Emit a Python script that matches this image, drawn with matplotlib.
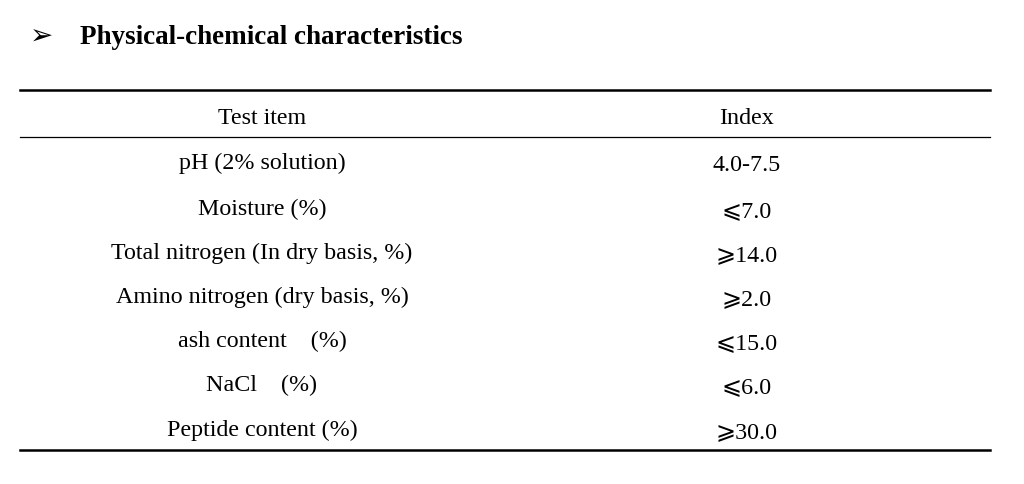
import matplotlib.pyplot as plt

title = "Physical-chemical characteristics"
header = ["Test item", "Index"]
test_items = ["pH (2% solution)", "Moisture (%)", "Total nitrogen (In dry basis, %)",
              "Amino nitrogen (dry basis, %)", "ash content\u3000(%)", "NaCl\u3000(%)",
              "Peptide content (%)"]
index_values = ["4.0-7.5", "\u2a7d7.0", "\u2a7e14.0", "\u2a7e2.0", "\u2a7d15.0",
                "\u2a7d6.0", "\u2a7e30.0"]

fonts = ['Liberation Serif', 'DejaVu Serif', 'Noto Sans CJK SC', 'DejaVu Sans']
plt.rcParams['font.family'] = fonts

fig = plt.figure(figsize=(10.24, 4.85), dpi=100)
ax = fig.add_axes([0, 0, 1, 1])
ax.set_xlim(0, 1024)
ax.set_ylim(485, 0)
ax.axis('off')

ax.text(42, 37, "\u27a2", fontsize=20, family=['DejaVu Sans'], ha='center', va='center')
ax.text(80, 38, title, fontsize=19.5, fontweight='bold', va='center')

ax.plot([20, 990], [91, 91], color='black', lw=1.8)
ax.plot([20, 990], [138, 138], color='black', lw=0.9)
ax.plot([20, 990], [451, 451], color='black', lw=1.8)

fs = 17.3
col_x = [262, 747]
ax.text(col_x[0], 118, header[0], fontsize=fs, ha='center', va='center')
ax.text(col_x[1], 118, header[1], fontsize=fs, ha='center', va='center')

row_y = [163, 209, 253, 297, 341, 385, 430]
for y, item, val in zip(row_y, test_items, index_values):
    ax.text(col_x[0], y, item, fontsize=fs, ha='center', va='center')
    ax.text(col_x[1], y, val, fontsize=fs, ha='center', va='center_baseline')

fig.savefig("out.png", dpi=100)
